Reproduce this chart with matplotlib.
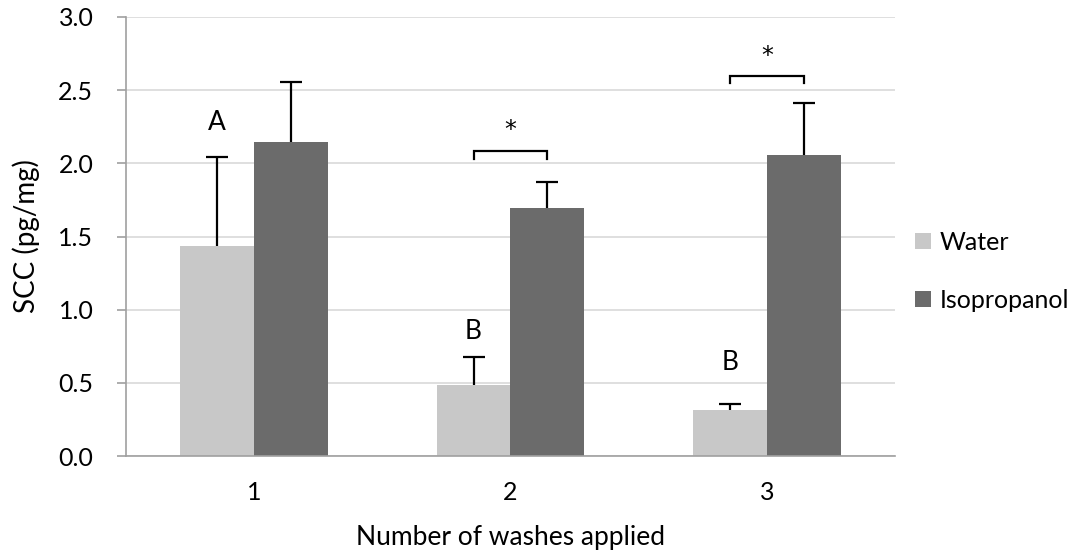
import matplotlib
matplotlib.use("Agg")
import matplotlib.pyplot as plt
from matplotlib.patches import Patch
import numpy as np

plt.rcParams['font.family'] = ['Lato', 'DejaVu Sans']

categories = ["1", "2", "3"]
water = [1.435, 0.485, 0.314]
water_err = [0.605, 0.192, 0.040]
iso = [2.148, 1.697, 2.058]
iso_err = [0.405, 0.176, 0.356]
letters = ["A", "B", "B"]
letter_y = [2.28, 0.85, 0.64]
sig_groups = [1, 2]
bracket_top = [2.085, 2.60]
bracket_leg = [2.03, 2.55]
star_y = [2.23, 2.735]

water_color = "#c8c8c8"
iso_color = "#6b6b6b"

fig = plt.figure(figsize=(10.69, 5.52), dpi=100)
ax = fig.add_axes([126/1069, 96/552, (895-126)/1069, (456-17)/552])

x = np.arange(len(categories))
w = 0.288
ax.bar(x - w/2, water, w, color=water_color, zorder=2)
ax.bar(x + w/2, iso, w, color=iso_color, zorder=2)
for xs, vals, errs in [(x - w/2, water, water_err), (x + w/2, iso, iso_err)]:
    eb = ax.errorbar(xs, vals, yerr=[np.zeros(3), errs], fmt='none',
                     ecolor='black', elinewidth=1.6, capsize=8, capthick=1.6, zorder=3)
    caps = eb[1]
    caps[0].set_visible(False)

for xi, lab, ly in zip(x, letters, letter_y):
    ax.text(xi - w/2, ly, lab, ha='center', va='center', fontsize=19, color='black')

for g, bt, bl, sy in zip(sig_groups, bracket_top, bracket_leg, star_y):
    xl, xr = g - w/2, g + w/2
    ax.plot([xl, xl, xr, xr], [bl, bt, bt, bl], color='black', lw=1.6, zorder=3,
            solid_joinstyle='miter')
    ax.text(g, sy, "*", ha='center', va='center', fontsize=17, color='black',
            family='DejaVu Sans')

ax.set_xlim(-0.5, 2.5)
ax.set_ylim(0, 3.0)
yt = np.arange(0, 3.01, 0.5)
ax.set_yticks(yt)
ax.set_yticklabels([f"{v:.1f}" for v in yt])
ax.set_xticks(x)
ax.set_xticklabels(categories)
ax.yaxis.grid(True, color='#d9d9d9', lw=1.2, zorder=0)
ax.set_axisbelow(True)
for s in ['top', 'right']:
    ax.spines[s].set_visible(False)
for s in ['left', 'bottom']:
    ax.spines[s].set_color('#a0a0a0')
    ax.spines[s].set_linewidth(1.2)
ax.tick_params(axis='y', length=6.5, width=1.2, color='#a0a0a0', labelsize=18, pad=17)
ax.tick_params(axis='x', length=0, labelsize=18, pad=18)

ax.set_ylabel("SCC (pg/mg)", fontsize=20, labelpad=13)
ax.set_xlabel("Number of washes applied", fontsize=19, labelpad=15)

handles = [Patch(facecolor=water_color, edgecolor='none'),
           Patch(facecolor=iso_color, edgecolor='none')]
fig.legend(handles, ["Water", "Isopropanol"], loc='upper left',
           bbox_to_anchor=(915/1069, 1 - 231/552), frameon=False, fontsize=18,
           handlelength=0.62, handleheight=0.62, handletextpad=0.35,
           labelspacing=1.38, borderaxespad=0, borderpad=0)

fig.savefig("out.png", dpi=100, facecolor='white')
